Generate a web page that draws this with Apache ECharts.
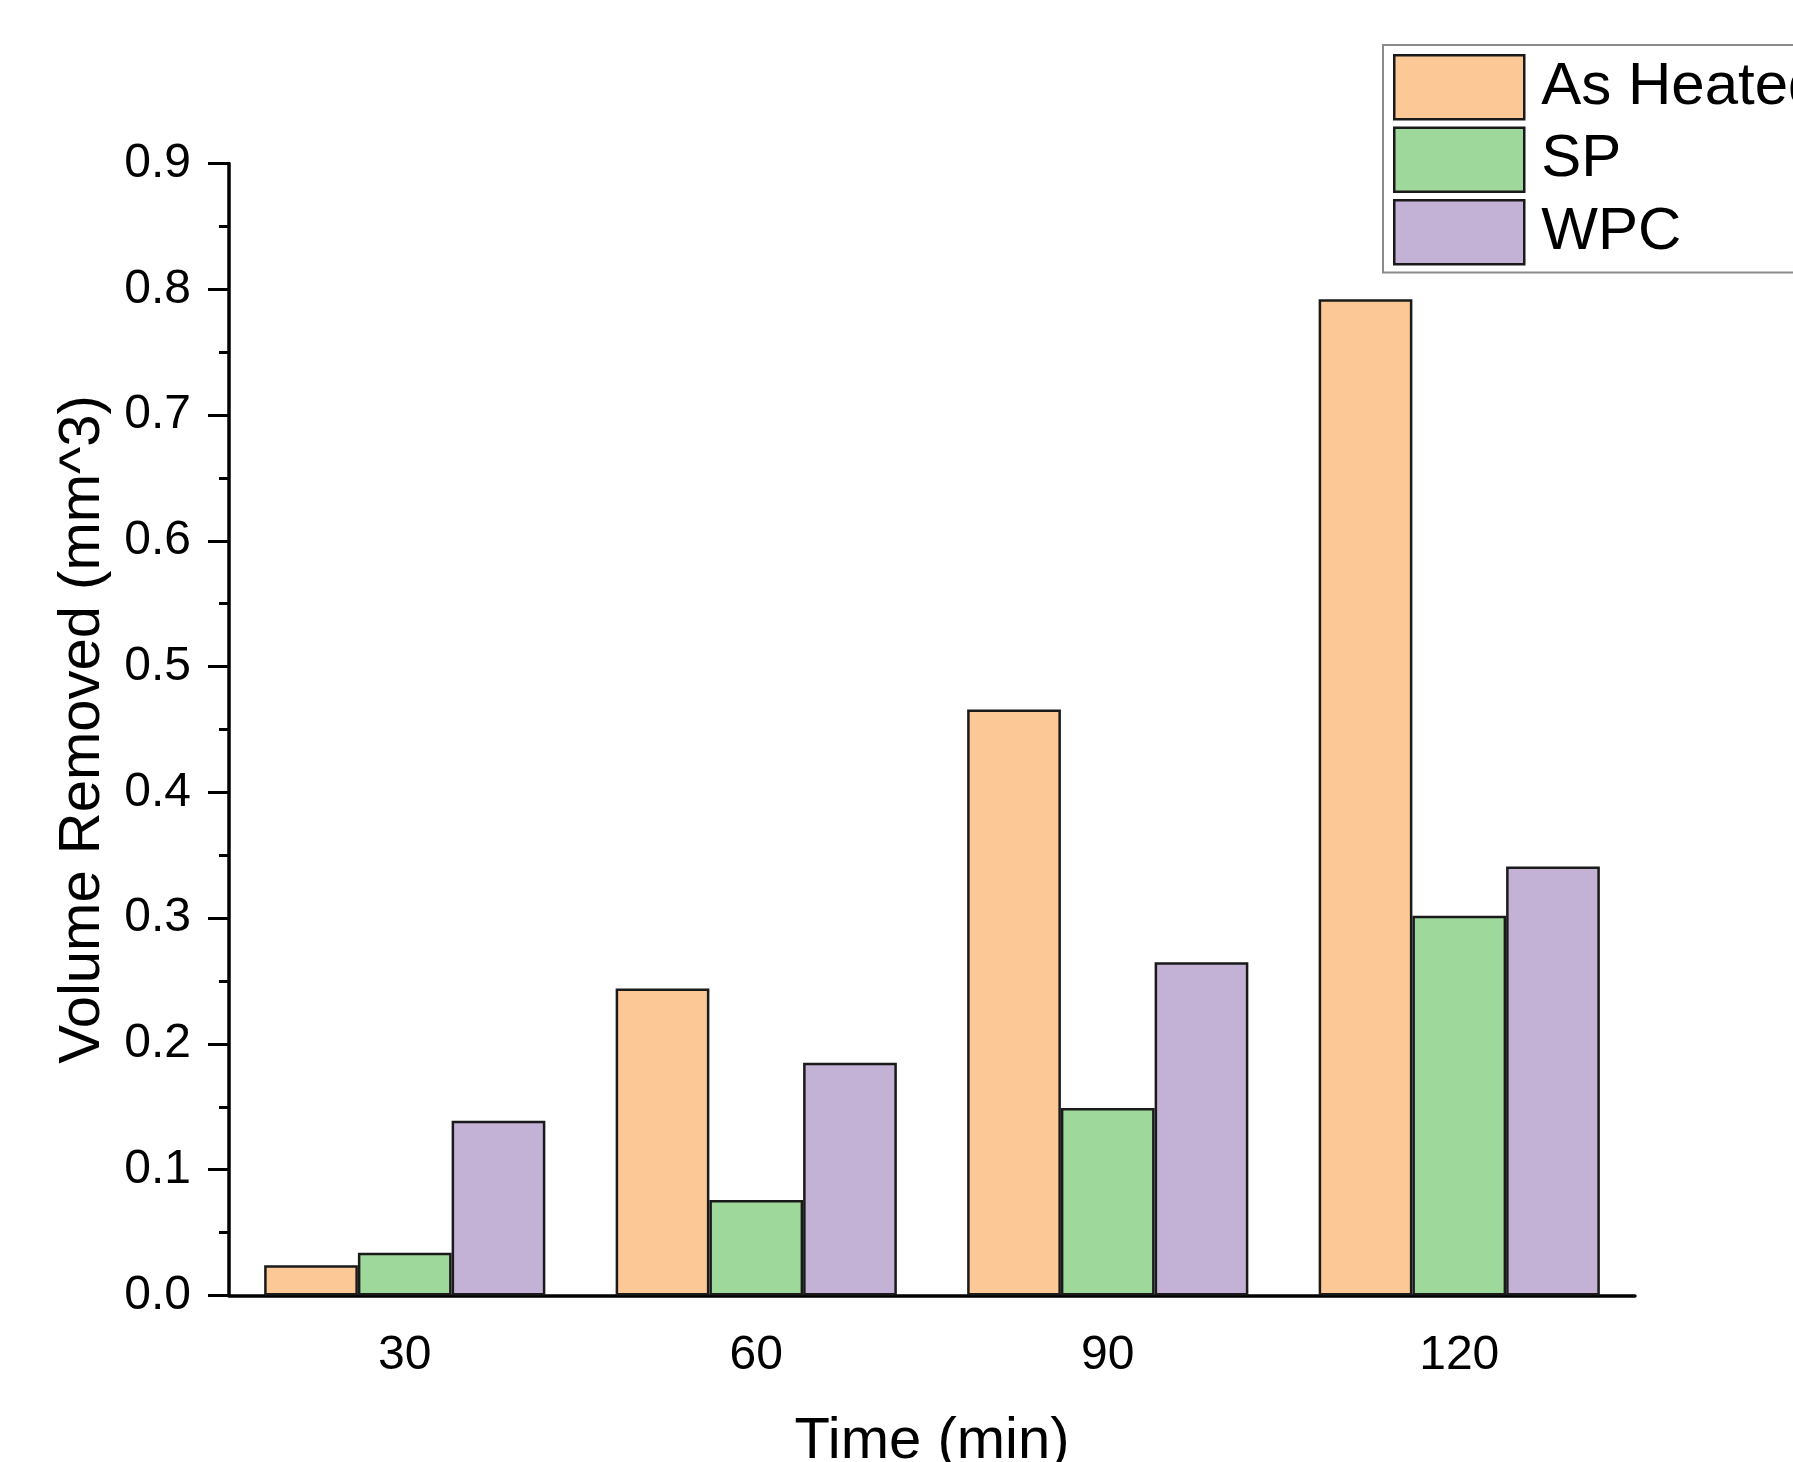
<!DOCTYPE html>
<html>
<head>
<meta charset="utf-8">
<script src="https://cdn.jsdelivr.net/npm/echarts@6/dist/echarts.min.js"></script>
<style>
  html, body { margin: 0; padding: 0; background: #fff; }
  #chart { width: 1793px; height: 1462px; }
</style>
</head>
<body>
<div id="chart"></div>
<script>
// time categories (min)
const times = ['30', '60', '90', '120']
// volume removed (mm^3)
const asHeated = [0.024, 0.244, 0.466, 0.792]
const sp = [0.034, 0.076, 0.149, 0.302]
const wpc = [0.139, 0.185, 0.265, 0.341]

const font = 'Liberation Sans, Arial, sans-serif'
const barBorder = { borderColor: '#1a1a1a', borderWidth: 2.5 }

const myChart = echarts.init(document.getElementById('chart'))
const option = {
  backgroundColor: '#fff',
  animation: false,
  textStyle: { fontFamily: font, color: '#000' },
  grid: {
    left: 229,
    right: 158,
    top: 163.5,
    bottom: 166.5,
    outerBoundsMode: 'none',
  },
  legend: {
    orient: 'vertical',
    left: 1383,
    top: 45,
    padding: [9, 40, 7, 10],
    itemWidth: 130,
    itemHeight: 64,
    itemGap: 6,
    borderColor: '#8a8a8a',
    borderWidth: 2,
    icon: 'rect',
    itemStyle: barBorder,
    textStyle: { fontSize: 60, lineHeight: 56, fontFamily: font, color: '#000', padding: [0, 0, 0, 12] },
    data: ['As Heated', 'SP', 'WPC'],
  },
  xAxis: {
    type: 'category',
    data: times,
    name: 'Time (min)',
    nameLocation: 'middle',
    nameGap: 117,
    nameTextStyle: { fontSize: 58, fontFamily: font, color: '#000' },
    axisLine: { lineStyle: { color: '#000', width: 3.5 } },
    axisTick: { alignWithLabel: true, length: 22, lineStyle: { width: 3, color: '#000' } },
    axisLabel: { fontSize: 48, color: '#000', margin: 36 },
  },
  yAxis: {
    type: 'value',
    min: 0,
    max: 0.9,
    interval: 0.1,
    name: 'Volume Removed (mm^3)',
    nameLocation: 'middle',
    nameGap: 117,
    nameTextStyle: { fontSize: 58, fontFamily: font, color: '#000' },
    axisLine: { show: true, lineStyle: { color: '#000', width: 3.5 } },
    axisTick: { show: true, length: 21, lineStyle: { width: 3, color: '#000' } },
    minorTick: { show: true, splitNumber: 2, length: 10, lineStyle: { width: 3, color: '#000' } },
    splitLine: { show: false },
    axisLabel: {
      fontSize: 48,
      color: '#000',
      margin: 38,
      formatter: (v) => v.toFixed(1),
    },
  },
  series: [
    {
      name: 'As Heated',
      type: 'bar',
      data: asHeated,
      barGap: '0%',
      barCategoryGap: '20%',
      itemStyle: Object.assign({ color: '#fbc896' }, barBorder),
    },
    {
      name: 'SP',
      type: 'bar',
      data: sp,
      barGap: '0%',
      barCategoryGap: '20%',
      itemStyle: Object.assign({ color: '#9fd89b' }, barBorder),
    },
    {
      name: 'WPC',
      type: 'bar',
      data: wpc,
      barGap: '0%',
      barCategoryGap: '20%',
      itemStyle: Object.assign({ color: '#c3b1d6' }, barBorder),
    },
  ],
}
myChart.setOption(option)
</script>
</body>
</html>
